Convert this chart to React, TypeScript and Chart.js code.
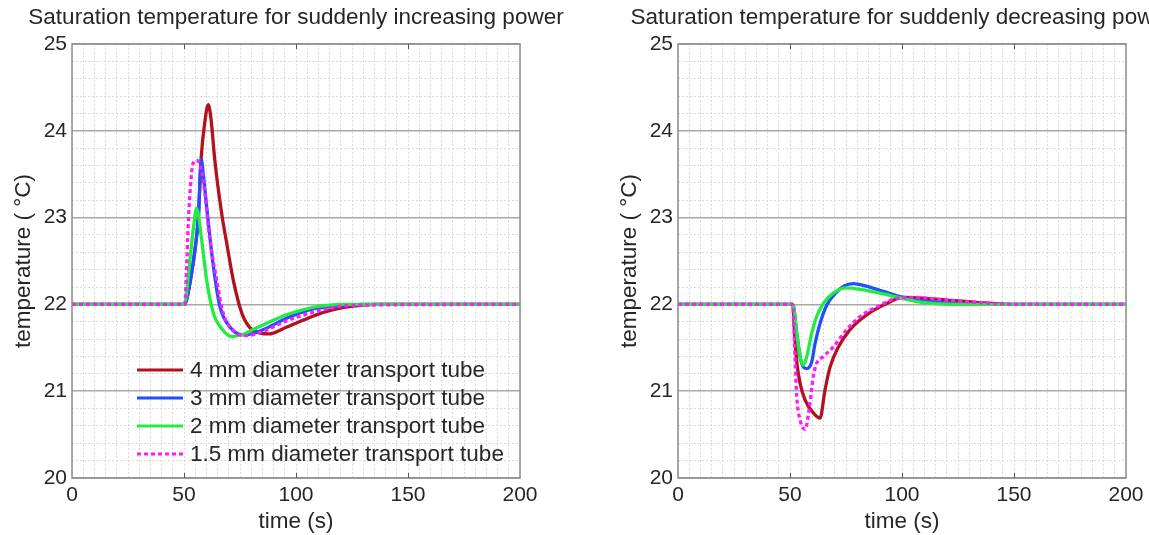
import React, { useEffect, useRef } from 'react';
import { Chart, registerables } from 'chart.js';

Chart.register(...registerables);

// ---------- data ----------
const TITLES = [
  'Saturation temperature for suddenly increasing power',
  'Saturation temperature for suddenly decreasing power',
];
const X_TITLE = 'time (s)';
const Y_TITLE = 'temperature ( °C)';
const SERIES_LABELS = [
  '4 mm diameter transport tube',
  '3 mm diameter transport tube',
  '2 mm diameter transport tube',
  '1.5 mm diameter transport tube',
];
const X_MIN = 0;
const X_MAX = 200;
const X_LABEL_STEP = 50;
const X_GRID_STEP = 5;
const Y_MIN = 20;
const Y_MAX = 25;
const Y_LABEL_STEP = 1;
const Y_GRID_STEP = 0.2;

// suddenly increasing power
const incT4 = [0, 50, 51, 53, 55, 56.4, 57.7, 59.2, 60.8, 62, 63.8, 66.8, 69.1, 72, 75.8, 79.5, 84, 88, 94.3, 103.3, 113.7, 125.6, 136, 200];
const incY4 = [22, 22, 22.04, 22.3, 22.65, 23.0, 23.7, 24.08, 24.3, 24.15, 23.65, 23.05, 22.7, 22.28, 21.9, 21.73, 21.67, 21.66, 21.72, 21.82, 21.92, 21.98, 22.0, 22.0];
const incT3 = [0, 50, 51, 53, 55, 56.4, 57.7, 58.6, 60.1, 63.1, 66.1, 70.5, 76, 80, 85.4, 95.8, 106.3, 118.2, 130, 200];
const incY3 = [22, 22, 22.04, 22.3, 22.65, 23.0, 23.67, 23.5, 23.13, 22.44, 21.97, 21.74, 21.65, 21.66, 21.71, 21.84, 21.94, 21.98, 22.0, 22.0];
const incT2 = [0, 50.3, 51, 52, 53, 54.2, 55.6, 57.9, 60.1, 63.1, 67.5, 71.5, 76, 80.9, 88.4, 95.8, 103.3, 110.7, 121, 200];
const incY2 = [22, 22, 22.1, 22.35, 22.6, 22.88, 23.11, 22.74, 22.28, 21.9, 21.7, 21.63, 21.65, 21.71, 21.8, 21.88, 21.94, 21.98, 22.0, 22.0];
const incT1 = [0, 50.3, 51, 51.9, 53, 54, 55.5, 56.8, 58.6, 61.6, 64.6, 67.5, 72, 78, 85.4, 95.8, 110.7, 125, 200];
const incY1 = [22, 22, 22.3, 22.93, 23.4, 23.62, 23.66, 23.63, 23.43, 22.74, 22.28, 21.9, 21.7, 21.64, 21.69, 21.81, 21.93, 21.99, 22.0];

// suddenly decreasing power
const decT4 = [0, 51.2, 52.2, 53.2, 54.5, 56.7, 60.4, 63.4, 65.6, 67.9, 71.6, 76.8, 84.2, 93.2, 100.6, 110, 120, 135, 150, 200];
const decY4 = [22, 22, 21.6, 21.3, 21.09, 20.9, 20.75, 20.69, 21.01, 21.28, 21.51, 21.71, 21.88, 22.01, 22.08, 22.07, 22.05, 22.02, 22.0, 22.0];
const decT3 = [0, 51.3, 53, 54.5, 55.9, 57.5, 59.7, 61.2, 63.4, 66.4, 70, 74, 78.3, 84, 91.7, 99.1, 106.6, 120, 135, 200];
const decY3 = [22, 22, 21.67, 21.4, 21.28, 21.26, 21.34, 21.55, 21.78, 21.99, 22.12, 22.21, 22.24, 22.21, 22.15, 22.09, 22.05, 22.02, 22.0, 22.0];
const decT2 = [0, 51.3, 53, 54.5, 55.9, 57.5, 59.7, 61.9, 64.9, 69.3, 75.3, 82, 91.7, 100, 110, 125, 200];
const decY2 = [22, 22, 21.67, 21.4, 21.3, 21.4, 21.67, 21.86, 22.01, 22.13, 22.19, 22.17, 22.12, 22.07, 22.02, 22.0, 22.0];
const decT1 = [0, 51.2, 52.2, 53, 54.5, 56.7, 58.9, 60.4, 61.9, 64.9, 69.3, 75.3, 81.3, 90.2, 97.6, 105, 120, 135, 150, 200];
const decY1 = [22, 22, 21.4, 20.94, 20.67, 20.56, 20.86, 21.17, 21.32, 21.4, 21.51, 21.71, 21.86, 21.99, 22.07, 22.08, 22.05, 22.02, 22.0, 22.0];

// ---------- styles ----------
const FONT = '"Liberation Sans", Arial, Helvetica, sans-serif';
const TEXT = '#262626';
const COLORS = ['#b3111d', '#1f50ff', '#22ec40', '#ff1aff'];
const DASHES: number[][] = [[], [], [], [4, 3]];
const MAJOR_GRID = '#a8a8a8';
const MINOR_GRID = '#d9d9d9';
const FRAME = '#8c8c8c';

const near = (v: number, step: number) => Math.abs(v / step - Math.round(v / step)) < 1e-6;

const zip = (t: number[], y: number[]) => t.map((x, i) => ({ x, y: y[i] }));

const framePlugin = {
  id: 'frame',
  afterDraw(chart: any) {
    const { ctx, chartArea: a, scales } = chart;
    ctx.save();
    ctx.strokeStyle = FRAME;
    ctx.lineWidth = 1.5;
    ctx.strokeRect(a.left, a.top, a.right - a.left, a.bottom - a.top);
    ctx.strokeStyle = '#555';
    ctx.lineWidth = 1;
    ctx.beginPath();
    for (let v = X_MIN + X_LABEL_STEP; v < X_MAX; v += X_LABEL_STEP) {
      const px = Math.round(scales.x.getPixelForValue(v)) + 0.5;
      ctx.moveTo(px, a.top);
      ctx.lineTo(px, a.top + 5);
      ctx.moveTo(px, a.bottom);
      ctx.lineTo(px, a.bottom - 5);
    }
    ctx.stroke();
    ctx.restore();
  },
};

const legendPlugin = {
  id: 'lineLegend',
  afterDraw(chart: any, _args: any, opts: any) {
    if (!opts || !opts.show) return;
    const { ctx, chartArea: a } = chart;
    ctx.save();
    ctx.font = `22.5px ${FONT}`;
    ctx.textBaseline = 'middle';
    ctx.textAlign = 'left';
    SERIES_LABELS.forEach((label, i) => {
      const y = a.bottom - 108 + i * 28;
      const x0 = a.left + 65;
      ctx.beginPath();
      ctx.setLineDash(DASHES[i]);
      ctx.strokeStyle = COLORS[i];
      ctx.lineWidth = 3;
      ctx.moveTo(x0, y);
      ctx.lineTo(x0 + 46, y);
      ctx.stroke();
      ctx.setLineDash([]);
      ctx.fillStyle = TEXT;
      ctx.fillText(label, x0 + 53, y + 1);
    });
    ctx.restore();
  },
};

function buildConfig(title: string, series: { x: number; y: number }[][], showLegend: boolean): any {
  return {
    type: 'line',
    data: {
      datasets: series.map((pts, i) => ({
        label: SERIES_LABELS[i],
        data: pts,
        borderColor: COLORS[i],
        backgroundColor: COLORS[i],
        borderWidth: 3.3,
        borderDash: DASHES[i],
        pointRadius: 0,
        cubicInterpolationMode: 'monotone',
        fill: false,
        order: 4 - i,
      })),
    },
    options: {
      animation: false,
      responsive: false,
      devicePixelRatio: 1,
      layout: { padding: 0 },
      plugins: {
        legend: { display: false },
        tooltip: { enabled: false },
        title: {
          display: true,
          text: title,
          color: TEXT,
          font: { family: FONT, size: 22.5, weight: 'normal', lineHeight: 1.2 },
          padding: { top: 4.5, bottom: 12.5 },
        },
        lineLegend: { show: showLegend },
      },
      scales: {
        x: {
          type: 'linear',
          min: X_MIN,
          max: X_MAX,
          afterFit: (s: any) => { s.height = 57; },
          ticks: {
            stepSize: X_GRID_STEP,
            autoSkip: false,
            maxRotation: 0,
            padding: 5,
            color: TEXT,
            font: { family: FONT, size: 21 },
            callback: (v: number) => (near(v, X_LABEL_STEP) ? String(v) : ''),
          },
          grid: { color: MINOR_GRID, lineWidth: 1, drawTicks: false },
          border: { display: false, dash: [2, 2] },
          title: {
            display: true,
            text: X_TITLE,
            color: TEXT,
            font: { family: FONT, size: 22.5, lineHeight: 1.1 },
            padding: { top: 0, bottom: 0.5 },
          },
        },
        y: {
          type: 'linear',
          position: 'left',
          min: Y_MIN,
          max: Y_MAX,
          afterFit: (s: any) => { s.width = 72; },
          ticks: {
            stepSize: Y_GRID_STEP,
            autoSkip: false,
            padding: 5,
            color: TEXT,
            font: { family: FONT, size: 21 },
            callback: (v: number) => (near(v, Y_LABEL_STEP) ? String(Math.round(v)) : ''),
          },
          grid: {
            drawTicks: false,
            color: (c: any) => (c.tick && near(c.tick.value, Y_LABEL_STEP) ? MAJOR_GRID : MINOR_GRID),
            lineWidth: (c: any) => (c.tick && near(c.tick.value, Y_LABEL_STEP) ? 1.5 : 1),
          },
          border: {
            display: false,
            dash: (c: any) => (c.tick && !near(c.tick.value, Y_LABEL_STEP) ? [2, 2] : []),
          },
          title: {
            display: true,
            text: Y_TITLE,
            color: TEXT,
            font: { family: FONT, size: 22.5, lineHeight: 1.2 },
            padding: { top: 10.5, bottom: 0 },
          },
        },
        yRight: {
          type: 'linear',
          position: 'right',
          min: Y_MIN,
          max: Y_MAX,
          afterFit: (s: any) => { s.width = 72; },
          ticks: { display: false },
          grid: { display: false, drawOnChartArea: false, drawTicks: false },
          border: { display: false },
        },
      },
    },
    plugins: [framePlugin, legendPlugin],
  };
}

function Panel(props: { left: number; title: string; series: { x: number; y: number }[][]; legend: boolean }) {
  const ref = useRef<HTMLCanvasElement>(null);
  useEffect(() => {
    const chart = new Chart(ref.current as HTMLCanvasElement, buildConfig(props.title, props.series, props.legend));
    return () => chart.destroy();
  }, []);
  return (
    <canvas
      ref={ref}
      width={592}
      height={535}
      style={{ position: 'absolute', left: props.left, top: 0, width: 592, height: 535 }}
    />
  );
}

export default function App() {
  const incSeries = [zip(incT4, incY4), zip(incT3, incY3), zip(incT2, incY2), zip(incT1, incY1)];
  const decSeries = [zip(decT4, decY4), zip(decT3, decY3), zip(decT2, decY2), zip(decT1, decY1)];
  return (
    <div style={{ position: 'fixed', left: 0, top: 0, width: 1149, height: 535, overflow: 'hidden', background: '#fff' }}>
      <Panel left={0} title={TITLES[0]} series={incSeries} legend={true} />
      <Panel left={606} title={TITLES[1]} series={decSeries} legend={false} />
    </div>
  );
}
